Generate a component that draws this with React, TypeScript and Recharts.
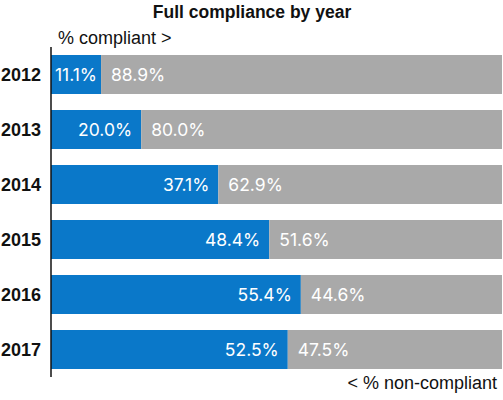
import { BarChart, Bar, XAxis, YAxis, LabelList } from "recharts";

const years = ["2012", "2013", "2014", "2015", "2016", "2017"];
const compliant = [11.1, 20.0, 37.1, 48.4, 55.4, 52.5];
const nonCompliant = [88.9, 80.0, 62.9, 51.6, 44.6, 47.5];

const data = years.map((year, i) => ({
  year,
  compliant: compliant[i],
  nonCompliant: nonCompliant[i],
}));

const FONT = "'Liberation Sans', Arial, Helvetica, sans-serif";
const LABEL_FONT = "Inter, 'Liberation Sans', sans-serif";
const BLUE = "#0a78c9";
const GREY = "#a9a9a9";

const YearTick = ({ y, payload }: any) => (
  <text
    x={41}
    y={y}
    dy={6.5}
    textAnchor="end"
    fontFamily={FONT}
    fontSize={18}
    fontWeight="bold"
    fill="#111"
  >
    {payload.value}
  </text>
);

// narrow bars get a tighter right padding so the label stays inside
const BlueLabel = ({ x, y, width, height, value }: any) => (
  <text
    x={x + width - (width < 60 ? 4 : 9)}
    y={y + height / 2}
    dy={6}
    textAnchor="end"
    fontFamily={LABEL_FONT}
    fontSize={17.5}
    fill="#fff"
  >
    {value.toFixed(1)}%
  </text>
);

const GreyLabel = ({ x, y, height, value }: any) => (
  <text
    x={x + 10}
    y={y + height / 2}
    dy={6}
    textAnchor="start"
    fontFamily={LABEL_FONT}
    fontSize={17.5}
    fill="#fff"
  >
    {value.toFixed(1)}%
  </text>
);

export default function App() {
  return (
    <div
      style={{
        position: "absolute",
        left: 0,
        top: 0,
        width: 503,
        height: 400,
        background: "#fff",
        fontFamily: FONT,
      }}
    >
      {/* TITLE */}
      <div
        style={{
          position: "absolute",
          left: 0,
          width: 504,
          top: 2,
          textAlign: "center",
          fontSize: 17.5,
          fontWeight: "bold",
          color: "#111",
        }}
      >
        Full compliance by year
      </div>

      <div
        style={{
          position: "absolute",
          left: 58,
          top: 28,
          fontSize: 18,
          color: "#111",
        }}
      >
        % compliant &gt;
      </div>

      <div
        style={{
          position: "absolute",
          right: 6,
          top: 373,
          fontSize: 18,
          color: "#111",
        }}
      >
        &lt; % non-compliant
      </div>

      {/* CHART */}
      <BarChart
        width={503}
        height={400}
        data={data}
        layout="vertical"
        margin={{ top: 47, right: 1, bottom: 23, left: 0 }}
        barSize={39}
      >
        <XAxis type="number" domain={[0, 100]} hide />
        <YAxis
          type="category"
          dataKey="year"
          width={51}
          axisLine={{ stroke: "#111", strokeWidth: 1.5 }}
          tickLine={false}
          tick={<YearTick />}
        />
        <Bar dataKey="compliant" stackId="a" fill={BLUE} isAnimationActive={false}>
          <LabelList dataKey="compliant" content={<BlueLabel />} />
        </Bar>
        <Bar dataKey="nonCompliant" stackId="a" fill={GREY} isAnimationActive={false}>
          <LabelList dataKey="nonCompliant" content={<GreyLabel />} />
        </Bar>
      </BarChart>
    </div>
  );
}
